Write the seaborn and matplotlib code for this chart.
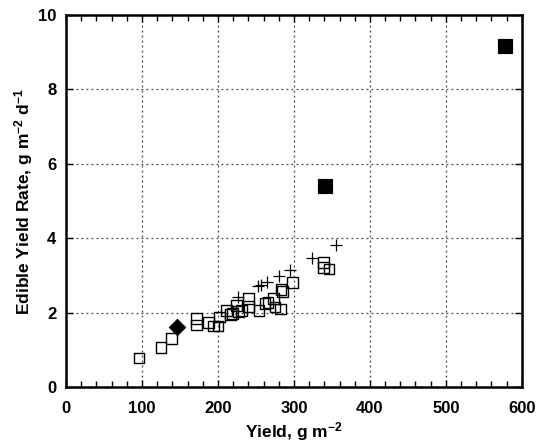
import numpy as np
import pandas as pd
import matplotlib
matplotlib.use('Agg')
import matplotlib.pyplot as plt
import seaborn as sns
from matplotlib.ticker import MultipleLocator

# ---------------------------------------------------------------
# Data
# ---------------------------------------------------------------
sq_yield = [96, 125, 139, 172, 172, 188, 194, 200, 202, 211, 217, 219,
            224, 227, 231, 240, 240, 254, 262, 266, 273, 275, 282, 283,
            285, 298, 339, 339, 346]
sq_rate = [0.78, 1.07, 1.31, 1.85, 1.67, 1.73, 1.64, 1.64, 1.88, 2.05, 1.94, 1.98,
           2.19, 2.04, 2.05, 2.38, 2.16, 2.05, 2.25, 2.27, 2.38, 2.15, 2.10, 2.63,
           2.57, 2.81, 3.34, 3.22, 3.17]

plus_yield = [227, 253, 257, 264, 280, 295, 324, 355]
plus_rate = [2.42, 2.71, 2.75, 2.82, 2.98, 3.14, 3.48, 3.81]

dia_yield = [146]
dia_rate = [1.60]

big_yield = [341, 578]
big_rate = [5.40, 9.18]

x_ticks = [0, 100, 200, 300, 400, 500, 600]
y_ticks = [0, 2, 4, 6, 8, 10]

# ---------------------------------------------------------------
# Style
# ---------------------------------------------------------------
sns.set_style('ticks')
plt.rcParams['font.family'] = ['Liberation Sans', 'DejaVu Sans']
plt.rcParams['font.weight'] = 'bold'
plt.rcParams['text.color'] = 'black'
plt.rcParams['axes.labelcolor'] = 'black'
plt.rcParams['xtick.color'] = 'black'
plt.rcParams['ytick.color'] = 'black'
plt.rcParams['mathtext.fontset'] = 'custom'
plt.rcParams['mathtext.rm'] = 'Liberation Sans:bold'
plt.rcParams['mathtext.it'] = 'Liberation Sans:bold'
plt.rcParams['mathtext.bf'] = 'Liberation Sans:bold'
plt.rcParams['mathtext.default'] = 'rm'

fig = plt.figure(figsize=(5.38, 4.47), dpi=100)
ax = fig.add_axes([0.1227, 0.1342, 0.8473, 0.8322])

df_sq = pd.DataFrame({'yield': sq_yield, 'rate': sq_rate})
df_plus = pd.DataFrame({'yield': plus_yield, 'rate': plus_rate})
df_dia = pd.DataFrame({'yield': dia_yield, 'rate': dia_rate})
df_big = pd.DataFrame({'yield': big_yield, 'rate': big_rate})

sns.scatterplot(data=df_sq, x='yield', y='rate', ax=ax, marker='s', s=60,
                facecolor='none', edgecolor='black', linewidth=1.0, zorder=3)
sns.scatterplot(data=df_plus, x='yield', y='rate', ax=ax, marker='+', s=70,
                color='black', linewidth=0.9, zorder=3)
sns.scatterplot(data=df_dia, x='yield', y='rate', ax=ax, marker='D', s=70,
                color='black', edgecolor='black', zorder=4)
sns.scatterplot(data=df_big, x='yield', y='rate', ax=ax, marker='s', s=110,
                color='black', edgecolor='black', zorder=4)

ax.set_xlim(0, 600)
ax.set_ylim(0, 10)
ax.set_xticks(x_ticks, labels=[str(v) for v in x_ticks], fontweight='bold', fontsize=12)
ax.set_yticks(y_ticks, labels=[str(v) for v in y_ticks], fontweight='bold', fontsize=12)
ax.xaxis.set_minor_locator(MultipleLocator(20))
ax.grid(True, which='major', color='#444444', linestyle=(0, (1.5, 2.5)), linewidth=0.9)
ax.set_axisbelow(True)

ax.tick_params(which='both', direction='in', top=True, right=True, width=1.0,
               colors='black')
ax.tick_params(which='major', length=5)
ax.tick_params(which='minor', length=4)
ax.tick_params(axis='x', which='major', pad=10)
ax.tick_params(axis='y', which='major', pad=7)

for sp in ax.spines.values():
    sp.set_linewidth(1.8)
    sp.set_color('black')

ax.set_xlabel('Yield, g m$^{-2}$', fontsize=12.5, fontweight='bold', labelpad=3,
              color='black')
ax.set_ylabel('Edible Yield Rate, g m$^{-2}$ d$^{-1}$', fontsize=12.5,
              fontweight='bold', labelpad=2, color='black')

fig.savefig('out.png', dpi=100)
